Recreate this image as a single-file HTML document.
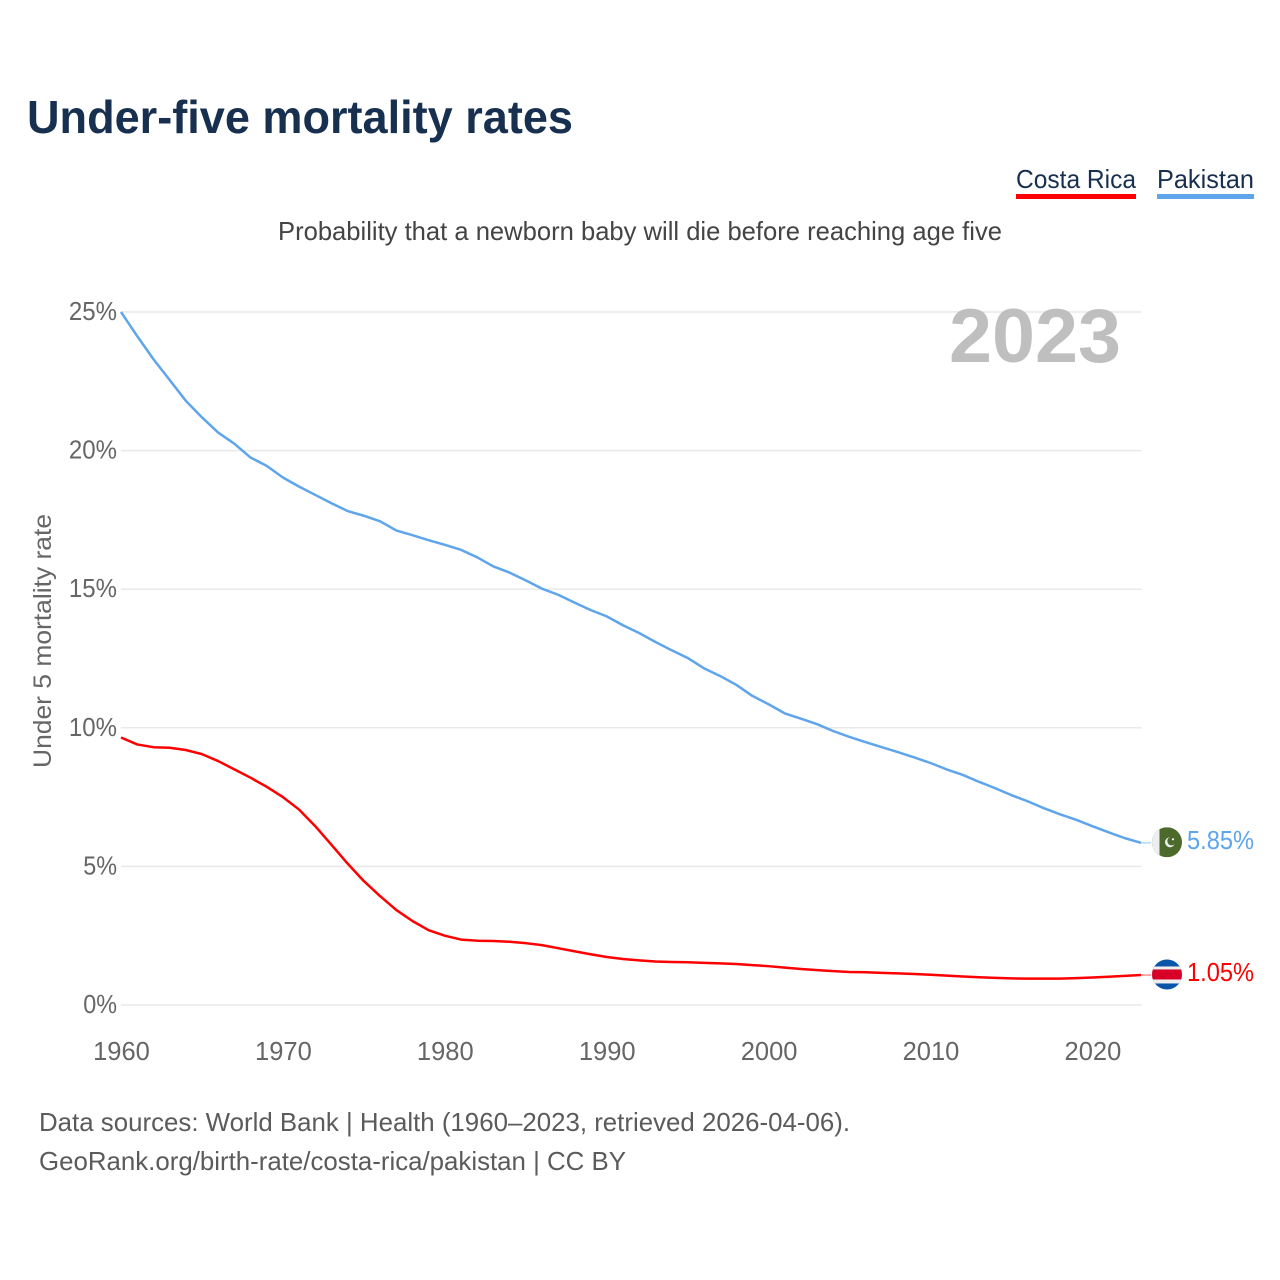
<!DOCTYPE html>
<html lang="en">
<head>
<meta charset="utf-8">
<title>Under-five mortality rates</title>
<style>
html,body{margin:0;padding:0;background:#fff;width:1280px;height:1280px;overflow:hidden}
svg{display:block}
text{font-family:"Liberation Sans",sans-serif}
</style>
</head>
<body>
<svg id="chart" xmlns="http://www.w3.org/2000/svg" width="1280" height="1280" viewBox="0 0 1280 1280">
  <defs>
    <clipPath id="flag-clip"><circle cx="0" cy="0" r="15"/></clipPath>
  </defs>
  <rect width="1280" height="1280" fill="#fff"/>
  <text x="27" y="133" font-size="46" font-weight="700" fill="#18304f" textLength="546" lengthAdjust="spacingAndGlyphs">Under-five mortality rates</text>
  <g>
    <text x="1016" y="188" font-size="26" fill="#18304f" textLength="120" lengthAdjust="spacingAndGlyphs">Costa Rica</text>
    <rect x="1016" y="194" width="120" height="5" fill="#ff0000"/>
  </g>
  <g>
    <text x="1157" y="188" font-size="26" fill="#18304f" textLength="97" lengthAdjust="spacingAndGlyphs">Pakistan</text>
    <rect x="1157" y="194" width="97" height="5" fill="#5ea5ec"/>
  </g>
  <text x="278" y="240" font-size="26" fill="#444" textLength="724" lengthAdjust="spacingAndGlyphs">Probability that a newborn baby will die before reaching age five</text>
  <text transform="translate(51,641) rotate(-90)" text-anchor="middle" font-size="25" fill="#666" textLength="254" lengthAdjust="spacingAndGlyphs">Under 5 mortality rate</text>
  <g id="grid"></g>
  <g id="yticks"></g>
  <g id="xticks"></g>
  <text x="949" y="362" font-size="76" font-weight="700" fill="#bfbfbf" textLength="172" lengthAdjust="spacingAndGlyphs">2023</text>
  <g id="series"></g>
  <g id="flag-pk">
    <g clip-path="url(#flag-clip)">
      <rect x="-15" y="-15" width="30" height="30" fill="#4d6a2d"/>
      <rect x="-15" y="-15" width="7.5" height="30" fill="#eeeeee"/>
      <circle cx="3" cy="0" r="5" fill="#f0f0f0"/>
      <circle cx="4.6" cy="-1.2" r="4.3" fill="#4d6a2d"/>
      <circle cx="6" cy="-3" r="1.1" fill="#f0f0f0"/>
    </g>
  </g>
  <g id="flag-cr">
    <g clip-path="url(#flag-clip)">
      <rect x="-15" y="-15" width="30" height="30" fill="#0b55a8"/>
      <rect x="-15" y="-8" width="30" height="17" fill="#eeeeee"/>
      <rect x="-15" y="-5" width="30" height="10" fill="#d80027"/>
    </g>
  </g>
  <g id="end-labels"></g>
  <text x="39" y="1131" font-size="26" fill="#5b5b5b" textLength="811" lengthAdjust="spacingAndGlyphs">Data sources: World Bank | Health (1960–2023, retrieved 2026-04-06).</text>
  <text x="39" y="1170" font-size="26" fill="#5b5b5b" textLength="587" lengthAdjust="spacingAndGlyphs">GeoRank.org/birth-rate/costa-rica/pakistan | CC BY</text>
</svg>
<script>
const startYear = 1960;
const pakistanValues = [25.0,24.13,23.3,22.55,21.8,21.2,20.65,20.25,19.75,19.45,19.03,18.7,18.4,18.1,17.82,17.65,17.45,17.12,16.95,16.77,16.6,16.42,16.15,15.82,15.6,15.32,15.02,14.8,14.52,14.25,14.02,13.7,13.42,13.1,12.8,12.52,12.15,11.87,11.55,11.15,10.85,10.52,10.33,10.13,9.88,9.67,9.48,9.3,9.12,8.93,8.73,8.5,8.3,8.05,7.82,7.57,7.35,7.1,6.88,6.68,6.45,6.23,6.02,5.85];
const costaRicaValues = [9.65,9.4,9.3,9.28,9.2,9.05,8.8,8.5,8.2,7.87,7.5,7.05,6.45,5.78,5.1,4.47,3.93,3.43,3.03,2.7,2.5,2.36,2.32,2.31,2.28,2.23,2.16,2.05,1.94,1.83,1.73,1.66,1.61,1.57,1.55,1.54,1.52,1.5,1.48,1.44,1.4,1.35,1.3,1.26,1.22,1.19,1.18,1.16,1.14,1.12,1.09,1.06,1.03,1.0,0.98,0.96,0.95,0.95,0.95,0.97,0.99,1.02,1.05,1.08];
const yTickValues = [0,5,10,15,20,25];
const xTickYears = [1960,1970,1980,1990,2000,2010,2020];
const pakistanLabel = "5.85%";
const costaRicaLabel = "1.05%";

const NS = "http://www.w3.org/2000/svg";
function xScale(year){ return 121 + (year - 1960) * 16.19; }
function yScale(v){ return 1005 - v * 27.72; }
function make(tag, attrs, parent){
  const el = document.createElementNS(NS, tag);
  for (const k in attrs) el.setAttribute(k, attrs[k]);
  parent.appendChild(el);
  return el;
}
const grid = document.getElementById('grid');
const yticks = document.getElementById('yticks');
const xticks = document.getElementById('xticks');
const seriesG = document.getElementById('series');
const labelsG = document.getElementById('end-labels');

yTickValues.forEach(function(v){
  const line = make('line', {x1:121, x2:1141.6, y1:yScale(v), y2:yScale(v), stroke:'#e9e9e9', 'stroke-width':1.5}, grid);
  
  
  const t = make('text', {x:117, y:yScale(v)+8, 'text-anchor':'end', 'font-size':25.5, fill:'#666'}, yticks);
  
  
  const s = v + '%';
  t.textContent = s;
  t.setAttribute('textLength', 14.3 * (s.length - 1) + 19.5);
  t.setAttribute('lengthAdjust', 'spacingAndGlyphs');
});

xTickYears.forEach(function(yr){
  const t = make('text', {x:xScale(yr)+0.5, y:1060, 'text-anchor':'middle', 'font-size':25.5, fill:'#666'}, xticks);
  
  
  t.textContent = yr;
});

function drawSeries(values, color, name, flagId, labelText){
  const pts = values.map(function(v, i){ return xScale(startYear + i).toFixed(2) + ',' + yScale(v).toFixed(2); }).join(' ');
  const line = make('polyline', {points:pts, fill:'none', stroke:color, 'stroke-width':2.5, 'stroke-linejoin':'round'}, seriesG);
  
  
  const lastV = values[values.length - 1];
  const lastX = xScale(startYear + values.length - 1);
  const lastY = yScale(lastV);
  const conn = make('line', {x1:lastX, x2:1151, y1:lastY, y2:lastY, stroke:color, 'stroke-width':1.5, opacity:0.45}, seriesG);
  
  
  document.getElementById(flagId).setAttribute('transform', 'translate(1167,' + (lastY - 0.6) + ')');
  const t = make('text', {x:1254, y:lastY + 6, 'text-anchor':'end', 'font-size':25.5, fill:color, textLength:67, lengthAdjust:'spacingAndGlyphs'}, labelsG);
  
  
  t.textContent = labelText;
}
drawSeries(costaRicaValues, '#ff0000', 'costa-rica', 'flag-cr', costaRicaLabel);
drawSeries(pakistanValues, '#5ea5ec', 'pakistan', 'flag-pk', pakistanLabel);
</script>
</body>
</html>
